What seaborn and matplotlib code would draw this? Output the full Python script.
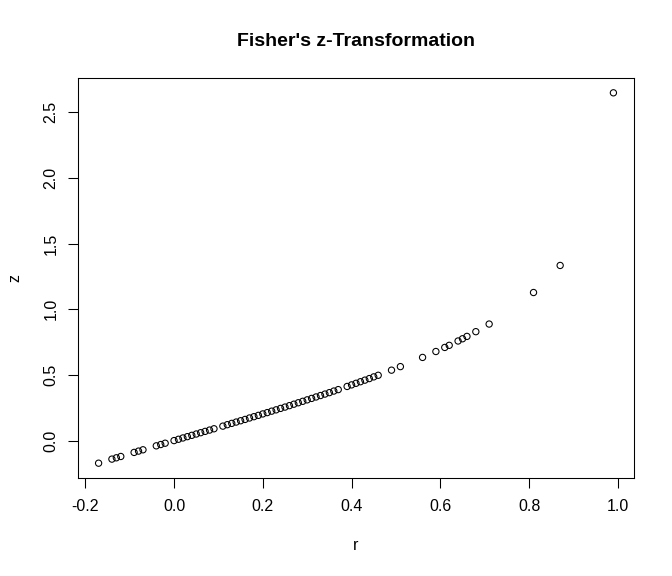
import matplotlib
matplotlib.use("Agg")
import matplotlib.pyplot as plt
import seaborn as sns
import pandas as pd

# Values
r_values = [-0.17, -0.14, -0.13, -0.12, -0.09, -0.08, -0.07, -0.04, -0.03, -0.02,
            0.00, 0.01, 0.02, 0.03, 0.04, 0.05, 0.06, 0.07, 0.08, 0.09,
            0.11, 0.12, 0.13, 0.14, 0.15, 0.16, 0.17, 0.18, 0.19, 0.20,
            0.21, 0.22, 0.23, 0.24, 0.25, 0.26, 0.27, 0.28, 0.29, 0.30,
            0.31, 0.32, 0.33, 0.34, 0.35, 0.36, 0.37,
            0.39, 0.40, 0.41, 0.42, 0.43, 0.44, 0.45, 0.46,
            0.49, 0.51, 0.56, 0.59, 0.61, 0.62, 0.64, 0.65, 0.66, 0.68, 0.71,
            0.81, 0.87, 0.99]
z_values = [-0.172, -0.141, -0.131, -0.121, -0.090, -0.080, -0.070, -0.040, -0.030, -0.020,
            0.000, 0.010, 0.020, 0.030, 0.040, 0.050, 0.060, 0.070, 0.080, 0.090,
            0.110, 0.121, 0.131, 0.141, 0.151, 0.161, 0.172, 0.182, 0.192, 0.203,
            0.213, 0.224, 0.234, 0.245, 0.255, 0.266, 0.277, 0.288, 0.299, 0.310,
            0.321, 0.332, 0.343, 0.354, 0.365, 0.377, 0.388,
            0.412, 0.424, 0.436, 0.448, 0.460, 0.472, 0.485, 0.497,
            0.536, 0.563, 0.633, 0.678, 0.709, 0.725, 0.758, 0.775, 0.793, 0.829, 0.887,
            1.127, 1.333, 2.647]
x_ticks = [-0.2, 0.0, 0.2, 0.4, 0.6, 0.8, 1.0]
y_ticks = [0.0, 0.5, 1.0, 1.5, 2.0, 2.5]
title = "Fisher's z-Transformation"

df = pd.DataFrame({"r": r_values, "z": z_values})

sns.set_theme(style="white")
plt.rcParams['font.family'] = ['Liberation Sans', 'DejaVu Sans']

fig = plt.figure(figsize=(7, 6), dpi=96)
ax = fig.add_axes([78/672, 1-478/576, (634-78)/672, (478-78)/576])

sns.scatterplot(data=df, x="r", y="z", ax=ax, marker="o", s=22,
                facecolor="none", edgecolor="black", linewidth=0.8)

rng_x = max(r_values) - min(r_values)
rng_y = max(z_values) - min(z_values)
ax.set_xlim(min(r_values) - 0.04*rng_x, max(r_values) + 0.04*rng_x)
ax.set_ylim(min(z_values) - 0.04*rng_y, max(z_values) + 0.04*rng_y)

ax.set_xticks(x_ticks)
ax.set_xticklabels([f"{t:.1f}" for t in x_ticks])
ax.set_yticks(y_ticks)
ax.set_yticklabels([f"{t:.1f}" for t in y_ticks], rotation=90, va="center")

for s in ax.spines.values():
    s.set_color("black")
    s.set_linewidth(0.8)
ax.tick_params(axis="both", direction="out", length=7.5, width=0.8, color="black",
               labelsize=12, labelcolor="black", pad=8, bottom=True, left=True)
ax.tick_params(axis="y", pad=7)

ax.set_xlabel("r", fontsize=12, color="black", labelpad=18)
ax.set_ylabel("z", fontsize=12, color="black", labelpad=16)
ax.set_title(title, fontsize=14.6, fontweight="bold", color="black", pad=24)

fig.savefig("out.png", dpi=96, facecolor="white")
